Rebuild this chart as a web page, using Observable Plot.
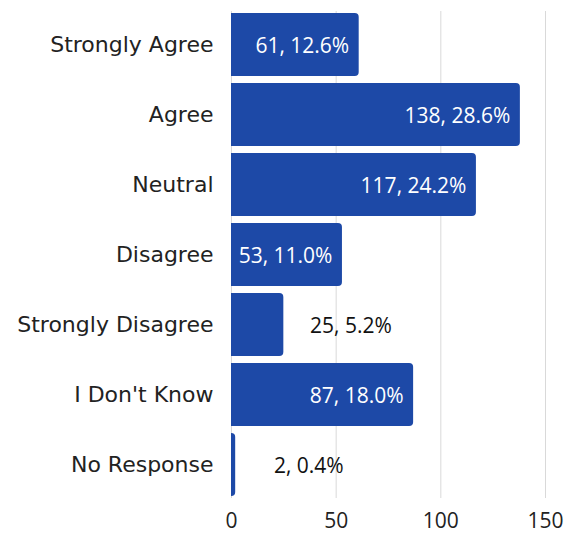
<!DOCTYPE html>
<html><head><meta charset="utf-8">
<script src="https://cdn.jsdelivr.net/npm/d3@7"></script>
<script src="https://cdn.jsdelivr.net/npm/@observablehq/plot@0.6"></script>
<style>body{margin:0;background:#fff;} #chart{width:569px;height:535px;}</style>
</head><body><div id="chart"></div>
<script>
const categories = ["Strongly Agree","Agree","Neutral","Disagree","Strongly Disagree","I Don't Know","No Response"];
const counts = [61,138,117,53,25,87,2];
const percents = ["12.6%","28.6%","24.2%","11.0%","5.2%","18.0%","0.4%"];
const xTicks = [0,50,100,150];

const data = categories.map((c,i)=>({cat:c, n:counts[i], label:`${counts[i]}, ${percents[i]}`}));
const inside = data.filter(d=>d.n>=50);
const outside = data.filter(d=>d.n<50);
const valueFont = "'Open Sans', sans-serif";

const chart = Plot.plot({
  width:569, height:535,
  marginLeft:231, marginRight:24, marginTop:11, marginBottom:37,
  style:{fontFamily:"'DejaVu Sans', sans-serif", fontSize:"20px", background:"#fff", color:"#222"},
  x:{domain:[0,150], ticks:xTicks, grid:false, label:null},
  y:{domain:categories, label:null, paddingInner:0.1, paddingOuter:0},
  marks:[
    Plot.gridX(xTicks,{stroke:"#d9d9d9", strokeOpacity:1, strokeWidth:1}),
    Plot.barX(data,{x:"n", y:"cat", fill:"#1D49A7", rx2y1:4, rx2y2:4}),
    Plot.axisX({ticks:xTicks, tickSize:0, tickPadding:15, label:null, fontSize:21, fill:"#222", fontFamily:valueFont}),
    Plot.axisY({tickSize:0, tickPadding:18, label:null, fontSize:22, fill:"#222"}),
    Plot.text(inside,{x:"n", y:"cat", text:"label", textAnchor:"end", dx:-10, dy:1, fill:"#fff", fontSize:21, fontFamily:valueFont}),
    Plot.text(outside,{x:"n", y:"cat", text:"label", textAnchor:"end", dx:108, dy:1, fill:"#111", fontSize:21, fontFamily:valueFont})
  ]
});
document.getElementById("chart").appendChild(chart);
</script></body></html>
